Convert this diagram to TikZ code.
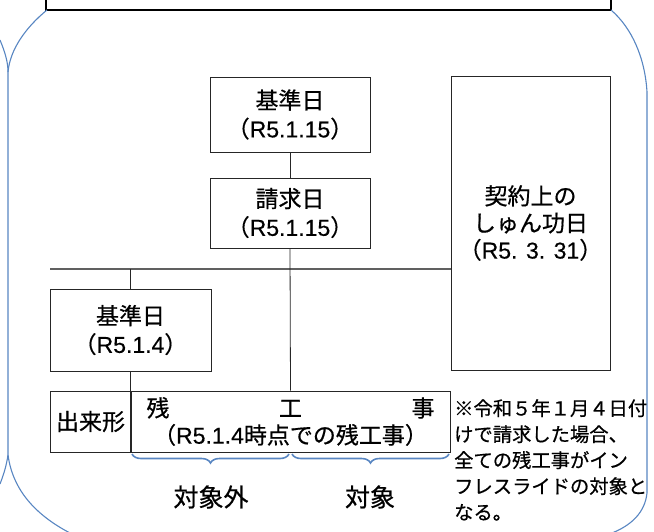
\documentclass[tikz,border=0pt]{standalone}
\usepackage{fontspec}
\setmainfont{Noto Sans CJK JP}[FakeBold=0.6]
\newfontfamily\lat{Liberation Sans}[FakeBold=0.4]
\usetikzlibrary{decorations.pathreplacing}
\definecolor{bluel}{RGB}{88,134,194}
\definecolor{grayl}{RGB}{96,96,96}
\newcommand\bxf{\fontsize{23}{28.5}\selectfont}
\begin{document}
\begin{tikzpicture}[x=1pt,y=-1pt,
  box/.style={draw=black!85, line width=0.8pt, inner sep=0pt, align=center, font=\bxf},
  conn/.style={draw=black!85, line width=0.8pt},
  bluel line/.style={draw=bluel, line width=1.1pt},
  brc/.style={draw=bluel, line width=1.6pt, decorate, decoration={brace, mirror, amplitude=9pt}}]
\useasboundingbox (0,0) rectangle (654,531);
% top black frame
\draw[line width=2.2pt] (46,-10) rectangle (611,10);
% blue outline
\draw[bluel line] (47,10) .. controls (25,28) and (10,50) .. (8,72) -- (8,455)
  .. controls (12,485) and (30,512) .. (70,533);
\draw[bluel line] (0,40) .. controls (5,52) and (8,62) .. (8,72);
\draw[bluel line] (8,455) .. controls (6,468) and (3,476) .. (0,484);
\draw[bluel line] (611,10) .. controls (632,28) and (645,58) .. (647,92) -- (647,493)
  .. controls (645,512) and (632,525) .. (612,533);
% boxes
\node[box, minimum width=160pt, minimum height=75pt] (k1) at (290,114.5)
  {基準日\\（{\lat R5.1.15}）};
\node[box, minimum width=160pt, minimum height=70pt] (sk) at (290,213)
  {請求日\\（{\lat R5.1.15}）};
\node[box, minimum width=159pt, minimum height=294pt, font=\fontsize{23}{27}\selectfont] (ky) at (530.5,223)
  {契約上の\\しゅん功日\\（{\lat R5. 3. 31}）};
\node[box, minimum width=161pt, minimum height=82pt] (k2) at (130.5,330)
  {基準日\\（{\lat R5.1.4}）};
\node[box, minimum width=81pt, minimum height=61pt] (dk) at (90.5,421.5) {出来形};
\node[box, minimum width=320pt, minimum height=61pt, font=\fontsize{23}{27}\selectfont] (zn) at (290.5,421.5)
  {\makebox[288pt]{残\hfill 工\hfill 事}\\（{\lat R5.1.4}時点での残工事）};
% connectors
\coordinate (hl) at (50,269);
\draw[draw=grayl, line width=1.6pt] (hl) -- (ky.west |- hl);
\draw[conn] (k1.south) -- (sk.north);
\draw[conn] (sk.south) -- (zn.north);
\draw[conn] (k2.north) -- (k2.north |- hl);
\draw[conn] (k2.south) -- (k2.south |- zn.north);
% braces
\coordinate (b1) at (132,454);
\coordinate (b2) at (289,454);
\coordinate (b3) at (292,454);
\coordinate (b4) at (449,454);
\draw[brc] (b1) -- (b2);
\draw[brc] (b3) -- (b4);
\node[font=\fontsize{25}{30}\selectfont, inner sep=0pt] (gai) at (211,497) {対象外};
\node[font=\fontsize{25}{30}\selectfont, inner sep=0pt] (tai) at (370,497) {対象};
% note
\node[anchor=north west, align=left, inner sep=0pt, font=\fontsize{19.3}{26}\selectfont] (note) at (454,399)
  {※令和５年１月４日付\\けで請求した場合、\\全ての残工事がイン\\フレスライドの対象と\\なる。};
\end{tikzpicture}
\end{document}
